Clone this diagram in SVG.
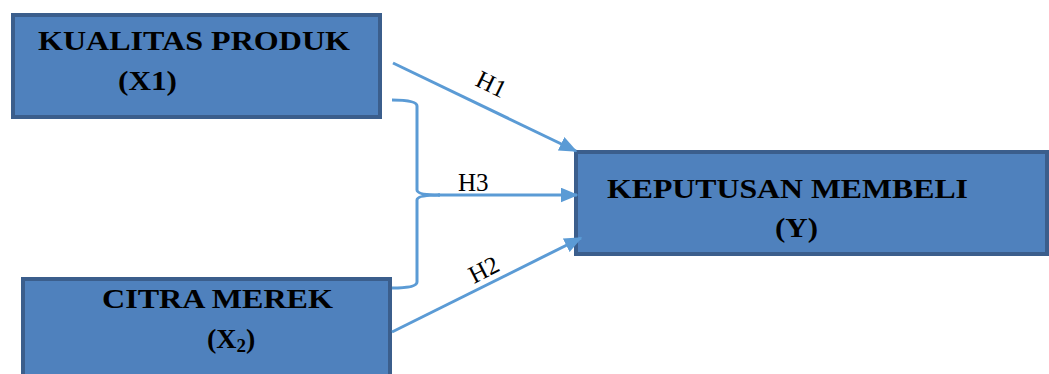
<svg xmlns="http://www.w3.org/2000/svg" width="1049" height="374" viewBox="0 0 1049 374">
<style>
.box{fill:#4F81BD;stroke:#3B5E8C;stroke-width:4}
.t{font-family:"Liberation Serif",serif;font-weight:bold;font-size:28px;fill:#000}
.lbl{font-family:"Liberation Serif",serif;font-size:25px;fill:#000}
.c{fill:none;stroke:#5B9BD5;stroke-width:3}
</style>
<defs>
<marker id="ah" markerWidth="6" markerHeight="5" refX="5.5" refY="2.5" orient="auto" markerUnits="strokeWidth">
<path d="M0,0 L6,2.5 L0,5 Z" fill="#5B9BD5"/>
</marker>
</defs>
<rect width="1049" height="374" fill="#fff"/>
<g id="x1">
<rect class="box" x="13" y="15" width="367" height="102"/>
<text class="t" x="38" y="50" textLength="312" lengthAdjust="spacingAndGlyphs">KUALITAS PRODUK</text>
<text class="t" x="118" y="90" textLength="59" lengthAdjust="spacingAndGlyphs">(X1)</text>
</g>
<g id="y">
<rect class="box" x="576" y="152" width="471" height="102"/>
<text class="t" x="607" y="198" textLength="361" lengthAdjust="spacingAndGlyphs">KEPUTUSAN MEMBELI</text>
<text class="t" x="775" y="237" textLength="43" lengthAdjust="spacingAndGlyphs">(Y)</text>
</g>
<g id="x2">
<rect class="box" x="23" y="279" width="367" height="110"/>
<text class="t" x="102" y="308" textLength="231" lengthAdjust="spacingAndGlyphs">CITRA MEREK</text>
<text class="t" x="207" y="348">(X<tspan font-size="19" dy="4">2</tspan><tspan dy="-4">)</tspan></text>
</g>
<g id="connectors">
<path class="c" d="M393,63 L576,151" marker-end="url(#ah)"/>
<path class="c" d="M392,100 Q417,100 417,106 L417,190 Q417,195 440,195" />
<path class="c" d="M392,288 Q417,288 417,282 L417,200 Q417,195 440,195" />
<path class="c" d="M438,195 L577,195" marker-end="url(#ah)"/>
<path class="c" d="M392,332 L581,238" marker-end="url(#ah)"/>
<text class="lbl" transform="translate(474,85) rotate(26)">H1</text>
<text class="lbl" x="458" y="191">H3</text>
<text class="lbl" transform="translate(474,284) rotate(-27)">H2</text>
</g>
</svg>
